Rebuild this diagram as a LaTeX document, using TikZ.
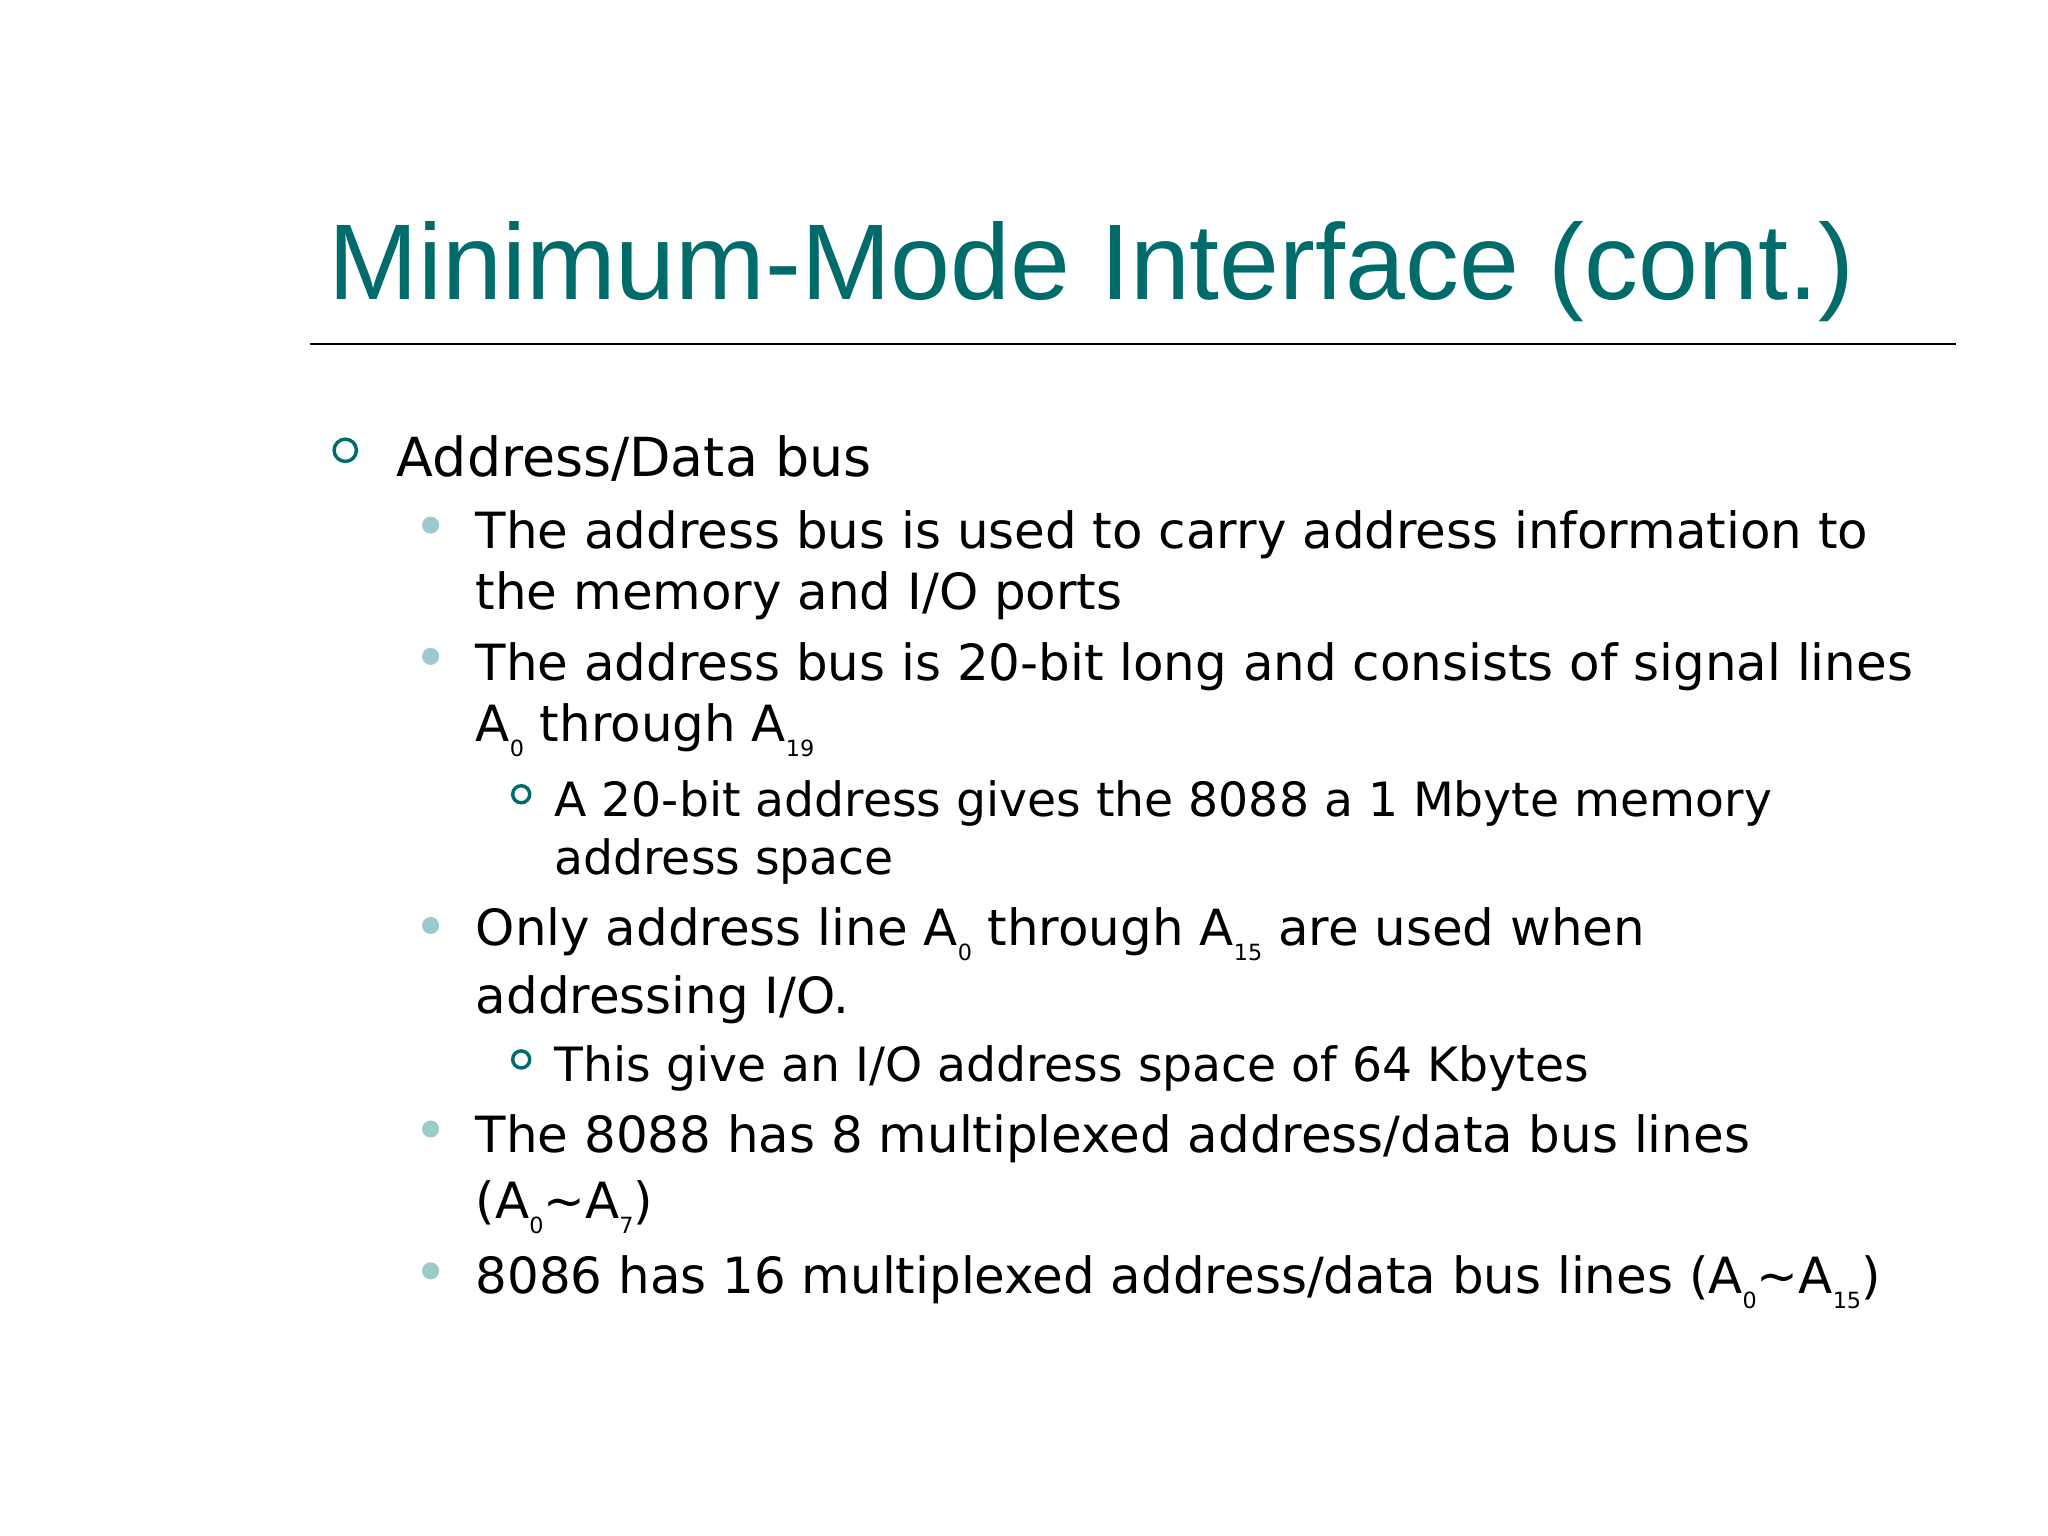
\documentclass[tikz,border=0pt]{standalone}
\usepackage{fontspec}
\setmainfont{DejaVu Sans}
\newfontfamily\titlefont{Liberation Sans}
\definecolor{teal1}{HTML}{006B6B}
\definecolor{bul}{HTML}{9CCACA}
\newcommand{\lsub}[1]{\raisebox{-0.3em}{\fontsize{8.5pt}{9pt}\selectfont #1}}
\tikzset{
 txt/.style={anchor=base west,inner sep=0pt,font=\fontsize{19pt}{23pt}\selectfont},
 txtA/.style={anchor=base west,inner sep=0pt,font=\fontsize{20.5pt}{24pt}\selectfont},
 txtC/.style={anchor=base west,inner sep=0pt,font=\fontsize{18pt}{22pt}\selectfont},
 hb/.style={draw=teal1,line width=1.3pt},
 fb/.style={fill=bul}
}
\begin{document}
\begin{tikzpicture}[x=0.5pt,y=-0.5pt]
\useasboundingbox (0,0) rectangle (1560,1170);
\node[anchor=base west,inner sep=0pt,text=teal1,font=\titlefont\fontsize{41pt}{48pt}\selectfont] (title) at (250,228) {Minimum-Mode Interface (cont.)};
\draw[line width=1pt] (236,262) -- (1490,262);
\draw[hb] (263,343) circle (8.5);
\node[txtA] (l1) at (302,363) {Address/Data bus};
\fill[fb] (328,400) circle (6.5);
\node[txt] (a1) at (362,418) {The address bus is used to carry address information to};
\node[txt] (a2) at (362,464) {the memory and I/O ports};
\fill[fb] (328,500) circle (6.5);
\node[txt] (b1) at (362,518) {The address bus is 20-bit long and consists of signal lines};
\node[txt] (b2) at (362,565) {A\lsub{0} through A\lsub{19}};
\draw[hb] (397,605) circle (6.5);
\node[txtC] (c1) at (422,622) {A 20-bit address gives the 8088 a 1 Mbyte memory};
\node[txtC] (c2) at (422,666) {address space};
\fill[fb] (328,705) circle (6.5);
\node[txt] (d1) at (362,720) {Only address line A\lsub{0} through A\lsub{15} are used when};
\node[txt] (d2) at (362,772) {addressing I/O.};
\draw[hb] (397,807) circle (6.5);
\node[txtC] (e1) at (422,824) {This give an I/O address space of 64 Kbytes};
\fill[fb] (328,860) circle (6.5);
\node[txt] (f1) at (362,878) {The 8088 has 8 multiplexed address/data bus lines};
\node[txt] (f2) at (362,928) {(A\lsub{0}\textasciitilde A\lsub{7})};
\fill[fb] (328,968) circle (6.5);
\node[txt] (g1) at (362,985) {8086 has 16 multiplexed address/data bus lines (A\lsub{0}\textasciitilde A\lsub{15})};
\end{tikzpicture}
\end{document}
